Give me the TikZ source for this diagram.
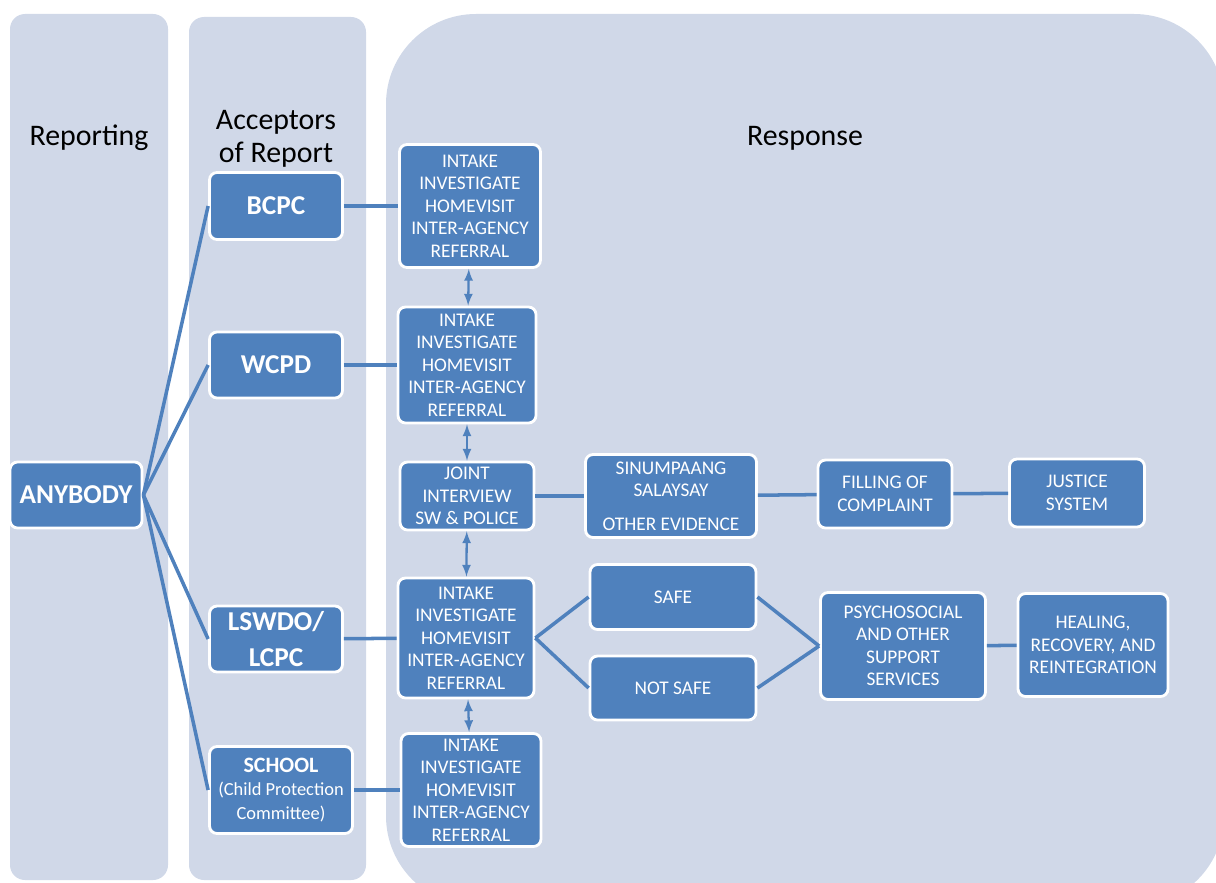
\documentclass[tikz,border=0pt]{standalone}
\usepackage{fontspec}
\setmainfont{Carlito}
\usepackage{tikz}
\definecolor{azul}{RGB}{79,129,189}
\definecolor{fondo}{RGB}{208,216,232}
\tikzstyle{carril} = [fill=fondo, rounded corners=0.3cm]
\tikzstyle{rectazul} = [rectangle, rounded corners=0.15cm, align=center, draw=white, line width=1.6pt, fill=azul, text=white, inner sep=0pt, font=\fontsize{11}{12.8}\selectfont]
\tikzstyle{rectnegrita} = [rectazul, font=\fontsize{15.5}{20}\selectfont\bfseries]
\tikzstyle{titulo} = [align=center, font=\fontsize{17}{18.7}\selectfont]
\tikzstyle{linea} = [azul, line width=2pt]
\tikzstyle{flecha} = [azul, line width=1.3pt, <->, >=latex]

\begin{document}
\begin{tikzpicture}[x=0.02cm, y=-0.02cm]
    \useasboundingbox (0,0) rectangle (1216,882);
    % Carriles
    \begin{scope}
        \clip (0,0) rectangle (1216,882);
        \fill[carril] (10,14) rectangle (168,880);
        \fill[carril] (189,17) rectangle (366,880);
        \fill[carril, rounded corners=1.8cm] (386,14) rectangle (1224,906);
    \end{scope}
    \node (reporting) [titulo] at (89,138) {Reporting};
    \node (acceptors) [titulo] at (276,139) {Acceptors\\of Report};
    \node (response) [titulo] at (805,138) {Response};
    % Cuadros
    \node (anybody) [rectnegrita, minimum width=2.64cm, minimum height=1.32cm] at (76,495) {ANYBODY};
    \node (bcpc) [rectnegrita, minimum width=2.66cm, minimum height=1.34cm] at (276,206) {BCPC};
    \node (wcpd) [rectnegrita, minimum width=2.66cm, minimum height=1.32cm] at (276,365) {WCPD};
    \node (lswdo) [rectnegrita, minimum width=2.66cm, minimum height=1.32cm] at (276,639) {LSWDO/\\LCPC};
    \node (school) [rectazul, minimum width=2.86cm, minimum height=1.74cm, font=\fontsize{10.5}{13.5}\selectfont] at (281,790) {\textbf{\fontsize{12.5}{13.5}\selectfont SCHOOL}\\(Child Protection\\Committee)};
    \node (intake1) [rectazul, minimum width=2.82cm, minimum height=2.46cm] at (470,206) {INTAKE\\INVESTIGATE\\HOMEVISIT\\INTER-AGENCY\\REFERRAL};
    \node (intake2) [rectazul, minimum width=2.76cm, minimum height=2.32cm] at (467,365) {INTAKE\\INVESTIGATE\\HOMEVISIT\\INTER-AGENCY\\REFERRAL};
    \node (joint) [rectazul, minimum width=2.68cm, minimum height=1.36cm] at (467,496) {JOINT\\INTERVIEW\\SW \& POLICE};
    \node (intake3) [rectazul, minimum width=2.72cm, minimum height=2.40cm] at (466,638) {INTAKE\\INVESTIGATE\\HOMEVISIT\\INTER-AGENCY\\REFERRAL};
    \node (intake4) [rectazul, minimum width=2.80cm, minimum height=2.26cm] at (471,790) {INTAKE\\INVESTIGATE\\HOMEVISIT\\INTER-AGENCY\\REFERRAL};
    \node (sinumpaang) [rectazul, minimum width=3.42cm, minimum height=1.66cm] at (671,496) {SINUMPAANG\\SALAYSAY\\[6.5pt]OTHER EVIDENCE};
    \node (filling) [rectazul, minimum width=2.68cm, minimum height=1.36cm] at (885,494) {FILLING OF\\COMPLAINT};
    \node (justice) [rectazul, minimum width=2.70cm, minimum height=1.36cm] at (1077,493) {JUSTICE\\SYSTEM};
    \node (safe) [rectazul, minimum width=3.32cm, minimum height=1.30cm] at (673,597) {SAFE};
    \node (notsafe) [rectazul, minimum width=3.32cm, minimum height=1.28cm] at (673,688) {NOT SAFE};
    \node (psycho) [rectazul, minimum width=3.30cm, minimum height=2.14cm] at (903,646) {PSYCHOSOCIAL\\AND OTHER\\SUPPORT\\SERVICES};
    \node (healing) [rectazul, minimum width=3.00cm, minimum height=2.06cm] at (1093,645) {HEALING,\\RECOVERY, AND\\REINTEGRATION};
    % Lineas
    \draw[linea] (anybody.east) -- (bcpc.west);
    \draw[linea] (anybody.east) -- (wcpd.west);
    \draw[linea] (anybody.east) -- (lswdo.west);
    \draw[linea] (anybody.east) -- (school.west);
    \draw[linea] (bcpc) -- (intake1);
    \draw[linea] (wcpd) -- (intake2);
    \draw[linea] (lswdo) -- (intake3);
    \draw[linea] (school) -- (intake4);
    \draw[linea] (joint) -- (sinumpaang);
    \draw[linea] (sinumpaang) -- (filling);
    \draw[linea] (filling) -- (justice);
    \draw[linea] (intake3.east) -- (safe.west);
    \draw[linea] (intake3.east) -- (notsafe.west);
    \draw[linea] (safe.east) -- (psycho.west);
    \draw[linea] (notsafe.east) -- (psycho.west);
    \draw[linea] (psycho) -- (healing);
    % Flechas
    \draw[flecha] (intake1) -- (intake2);
    \draw[flecha] (intake2) -- (joint);
    \draw[flecha] (joint) -- (intake3);
    \draw[flecha] (intake3) -- (intake4);
\end{tikzpicture}
\end{document}
